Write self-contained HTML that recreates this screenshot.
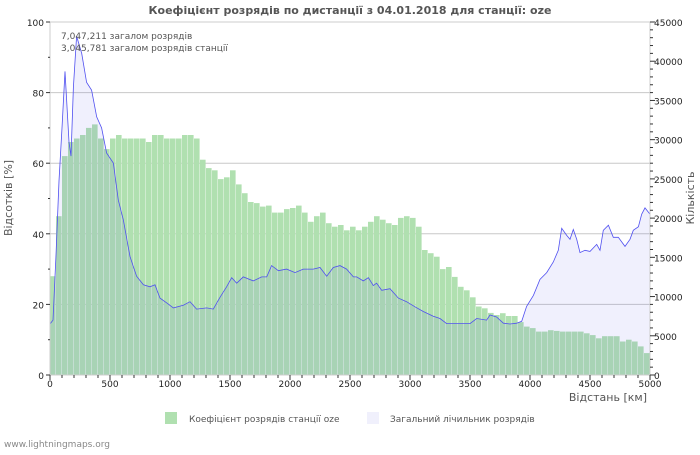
<!DOCTYPE html>
<html><head><meta charset="utf-8"><style>
body{margin:0;background:#fff;width:700px;height:450px;overflow:hidden;font-family:"Liberation Sans","DejaVu Sans",sans-serif}
svg text{font-family:"DejaVu Sans","Liberation Sans",sans-serif}
</style></head><body>
<svg id="c" width="700" height="450" xmlns="http://www.w3.org/2000/svg">
<text x="350" y="14" text-anchor="middle" font-size="11" font-weight="bold" fill="#555">Коефіцієнт розрядів по дистанції з 04.01.2018 для станції: oze</text>
<g id="grid"></g><g id="bars"></g><g id="area"></g><g id="line"></g><g id="axes"></g>
<text x="61" y="39" font-size="9" fill="#555">7,047,211 загалом розрядів</text>
<text x="61" y="51" font-size="9" fill="#555">3,045,781 загалом розрядів станції</text>
<text transform="translate(12,198) rotate(-90)" text-anchor="middle" font-size="11" fill="#555">Відсотків   [%]</text>
<text transform="translate(694,198) rotate(-90)" text-anchor="middle" font-size="11" fill="#555">Кількість</text>
<text x="647" y="401" text-anchor="end" font-size="11" fill="#555">Відстань   [км]</text>
<rect x="165" y="412" width="12" height="12" fill="#b0e0b0"/>
<text x="189" y="422" font-size="9" fill="#555">Коефіцієнт розрядів станції oze</text>
<rect x="367" y="412" width="12" height="12" fill="#f0f0fc"/>
<text x="390" y="422" font-size="9" fill="#555">Загальний лічильник розрядів</text>
<text x="4" y="447" font-size="9" fill="#888">www.lightningmaps.org</text>
</svg>
<script>
const barKm=[0,50,100,150,200,250,300,350,400,450,500,550,600,650,700,750,800,850,900,950,1000,1050,1100,1150,1200,1250,1300,1350,1400,1450,1500,1550,1600,1650,1700,1750,1800,1850,1900,1950,2000,2050,2100,2150,2200,2250,2300,2350,2400,2450,2500,2550,2600,2650,2700,2750,2800,2850,2900,2950,3000,3050,3100,3150,3200,3250,3300,3350,3400,3450,3500,3550,3600,3650,3700,3750,3800,3850,3900,3950,4000,4050,4100,4150,4200,4250,4300,4350,4400,4450,4500,4550,4600,4650,4700,4750,4800,4850,4900,4950];
const barPct=[28,45,62,66,67,68,70,71,67,64,67,68,67,67,67,67,66,68,68,67,67,67,68,68,67,61,58.6,58,55.5,56,58,54,51.5,49,48.7,47.7,48,46,46,47,47.3,48,46,43.4,45,46,43,42,42.5,41,42,41,42,43.4,45,44,43,42.5,44.5,45,44.5,42,35.4,34.5,33.5,30,30.6,27.8,25,24,22,19.4,18.9,17.6,17,17.5,16.7,16.7,15,13.7,13.3,12.3,12.3,12.7,12.5,12.3,12.3,12.3,12.3,11.8,11.3,10.4,11,11,11,9.5,10,9.5,8.1,6.2];
const lineKm=[0,25,50,75,100,125,158,175,195,222,264,305,347,389,430,472,528,569,611,667,722,778,833,875,917,972,1028,1111,1167,1222,1306,1361,1417,1472,1514,1556,1611,1694,1764,1806,1847,1903,1972,2042,2111,2194,2250,2306,2361,2417,2472,2528,2556,2611,2653,2694,2722,2764,2833,2903,2972,3042,3111,3194,3250,3306,3361,3417,3500,3556,3639,3667,3722,3778,3833,3889,3931,3972,4028,4083,4139,4194,4236,4264,4306,4333,4361,4389,4417,4458,4500,4556,4583,4611,4653,4694,4736,4792,4833,4861,4903,4931,4958,5000];
const lineCount=[6500,7000,15300,24750,31500,38700,29700,27900,36700,43200,41000,37300,36300,32900,31500,28300,27000,22300,19800,15100,12600,11500,11250,11500,9800,9200,8550,8900,9350,8400,8550,8400,9900,11250,12400,11700,12500,12000,12500,12500,13950,13300,13500,13050,13500,13500,13700,12600,13700,13950,13500,12500,12500,12000,12400,11400,11700,10800,11000,9800,9350,8700,8100,7500,7200,6550,6550,6550,6550,7200,7000,7650,7400,6600,6500,6600,6850,8750,10150,12200,13050,14400,15900,18700,17800,17300,18550,17300,15600,15900,15750,16650,15900,18450,19100,17550,17550,16400,17300,18450,18900,20500,21300,20500];
const pctTicks=[0,20,40,60,80,100];
const countTicks=[0,5000,10000,15000,20000,25000,30000,35000,40000,45000];
const kmTicks=[0,500,1000,1500,2000,2500,3000,3500,4000,4500,5000];
const X0=50,X1=650,Y0=375,Y1=22;
const xs=k=>X0+(X1-X0)*k/5000;
const yp=p=>Y0-(Y0-Y1)*p/100;
const yc=c=>Y0-(Y0-Y1)*c/45000;
const NS='http://www.w3.org/2000/svg';
function mk(t,a,p){const e=document.createElementNS(NS,t);for(const k in a)e.setAttribute(k,a[k]);document.getElementById(p).appendChild(e);return e;}
pctTicks.forEach(p=>{if(p>0&&p<100){const g=mk('line',{x1:X0,x2:X1,y1:yp(p),y2:yp(p),stroke:'#c8c8c8','stroke-width':1},'grid');

}});
const bw=(X1-X0)/barKm.length;
barKm.forEach((k,i)=>{const y=yp(barPct[i]);
const b=mk('rect',{x:xs(k).toFixed(2),y:y.toFixed(1),width:(bw-0.4).toFixed(2),height:(Y0-y).toFixed(1),fill:'#b0e0b0'},'bars');

});
let d='M'+xs(lineKm[0])+','+Y0;
lineKm.forEach((k,i)=>{d+=' L'+xs(k).toFixed(1)+','+yc(lineCount[i]).toFixed(1);});
d+=' L'+xs(lineKm[lineKm.length-1])+','+Y0+' Z';
const ar=mk('path',{d:d,fill:'rgb(90,90,230)','fill-opacity':0.09},'area');


let ld='';lineKm.forEach((k,i)=>{ld+=(i?' L':'M')+xs(k).toFixed(1)+','+yc(lineCount[i]).toFixed(1);});
const ln=mk('path',{d:ld,fill:'none',stroke:'#5050f0','stroke-width':0.8},'line');


const ax=mk('path',{d:`M${X0},${Y1} L${X0},${Y0} L${X1},${Y0} L${X1},${Y1} L${X0},${Y1}`,fill:'none',stroke:'#ccc'},'axes');


for(let p=0;p<=100;p+=10){mk('line',{x1:X0-(p%20?2:4),x2:X0,y1:yp(p),y2:yp(p),stroke:'#333'},'axes');}
pctTicks.forEach(p=>{const t=mk('text',{x:X0-6,y:yp(p)+4,'text-anchor':'end','font-size':9,fill:'#222'},'axes');t.textContent=p;

});
for(let c=0;c<=45000;c+=1000){mk('line',{x1:X1,x2:X1+(c%5000?3:5),y1:yc(c),y2:yc(c),stroke:'#333'},'axes');}
countTicks.forEach(c=>{const t=mk('text',{x:X1+4,y:yc(c)+4,'font-size':9,fill:'#222'},'axes');t.textContent=c;

});
for(let k=0;k<=5000;k+=100){mk('line',{x1:xs(k),x2:xs(k),y1:Y0,y2:Y0+(k%500?3:5),stroke:'#333'},'axes');}
kmTicks.forEach(k=>{const t=mk('text',{x:xs(k),y:Y0+12,'text-anchor':'middle','font-size':9,fill:'#222'},'axes');t.textContent=k;

});
</script>
</body></html>
